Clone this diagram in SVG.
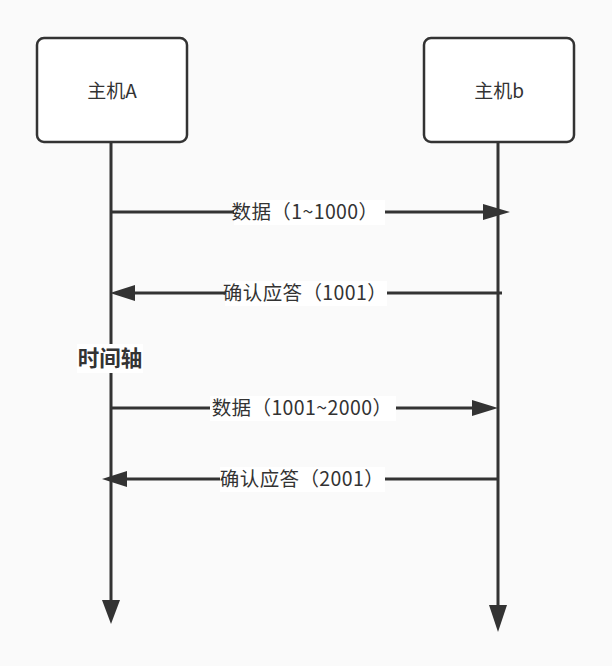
<svg xmlns="http://www.w3.org/2000/svg" width="612" height="666" viewBox="0 0 612 666">
<style>
.t{font-family:"Noto Sans CJK SC","Microsoft YaHei",sans-serif;fill:#333;font-size:19.5px}
.n{font-size:19px}
.b{font-weight:bold;font-size:21.5px}
.box{fill:#fff;stroke:#333;stroke-width:2.5}
.ln{stroke:#333;stroke-width:3;fill:none}
.bg{fill:#fff}
</style>
<rect width="612" height="666" fill="#fafafa"/>
<g id="connectors">
<line class="ln" x1="111" y1="142" x2="111" y2="602"/>
<path d="M102,600 L120,600 L111,624 Z" fill="#333"/>
<line class="ln" x1="498" y1="142" x2="498" y2="608"/>
<path d="M489,605 L507,605 L498,632 Z" fill="#333"/>
<line class="ln" x1="111" y1="212" x2="486" y2="212"/>
<path d="M483,204 L510,212 L483,220 Z" fill="#333"/>
<line class="ln" x1="502" y1="293" x2="132" y2="293"/>
<path d="M135,285 L110,293 L135,301 Z" fill="#333"/>
<line class="ln" x1="111" y1="408" x2="474" y2="408"/>
<path d="M472,400 L498,408 L472,416 Z" fill="#333"/>
<line class="ln" x1="498" y1="479" x2="124" y2="479"/>
<path d="M127,471 L102,479 L127,487 Z" fill="#333"/>
</g>
<g id="nodeA">
<rect class="box" x="37" y="38" width="150" height="104" rx="7"/>
<text class="t n" x="112" y="98" text-anchor="middle">主机A</text>
</g>
<g id="nodeB">
<rect class="box" x="424" y="38" width="150" height="104" rx="7"/>
<text class="t n" x="499" y="98" text-anchor="middle">主机b</text>
</g>
<g id="label1">
<rect class="bg" x="234" y="200" width="151" height="25"/>
<text class="t" x="305" y="219" text-anchor="middle" letter-spacing="0.4">数据（1~1000）</text>
</g>
<g id="label2">
<rect class="bg" x="225" y="281" width="162" height="25"/>
<text class="t" x="305" y="300" text-anchor="middle" letter-spacing="0.4">确认应答（1001）</text>
</g>
<g id="label3">
<rect class="bg" x="77" y="344" width="66" height="29"/>
<text class="t b" x="110" y="366" text-anchor="middle">时间轴</text>
</g>
<g id="label4">
<rect class="bg" x="210" y="396" width="186" height="25"/>
<text class="t" x="302" y="415" text-anchor="middle" letter-spacing="0.4">数据（1001~2000）</text>
</g>
<g id="label5">
<rect class="bg" x="220" y="467" width="165" height="25"/>
<text class="t" x="302" y="486" text-anchor="middle" letter-spacing="0.4">确认应答（2001）</text>
</g>
</svg>
